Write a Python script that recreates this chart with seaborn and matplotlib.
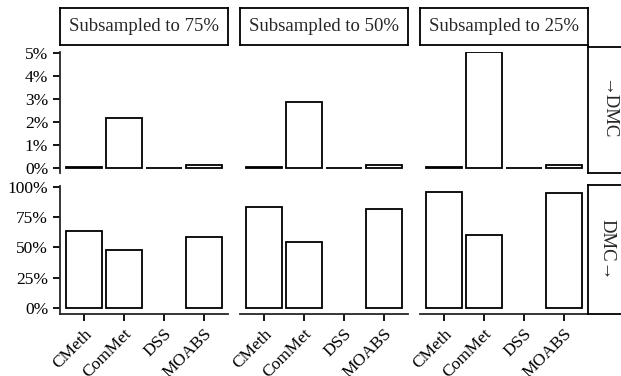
import numpy as np
import pandas as pd
import seaborn as sns
import matplotlib.pyplot as plt
from matplotlib.ticker import FuncFormatter

# data (percent)
methods = ['CMeth', 'ComMet', 'DSS', 'MOABS']
subsets = ['Subsampled to 75%', 'Subsampled to 50%', 'Subsampled to 25%']
rows = ['\u2192DMC', 'DMC\u2192']

to_dmc_75 = [0.02, 2.16, 0.0, 0.12]
to_dmc_50 = [0.02, 2.86, 0.0, 0.12]
to_dmc_25 = [0.02, 5.06, 0.0, 0.12]
dmc_to_75 = [63.9, 47.7, np.nan, 58.9]
dmc_to_50 = [83.2, 54.3, np.nan, 81.8]
dmc_to_25 = [96.1, 60.3, np.nan, 94.8]

top_ticks = [0, 1, 2, 3, 4, 5]
bottom_ticks = [0, 25, 50, 75, 100]

values = {
    (rows[0], subsets[0]): to_dmc_75, (rows[0], subsets[1]): to_dmc_50, (rows[0], subsets[2]): to_dmc_25,
    (rows[1], subsets[0]): dmc_to_75, (rows[1], subsets[1]): dmc_to_50, (rows[1], subsets[2]): dmc_to_25,
}
df = pd.DataFrame([
    {'row': r, 'subset': s, 'method': m, 'value': v}
    for (r, s), vals in values.items() for m, v in zip(methods, vals)
])

sns.set_style('ticks')
plt.rcParams['font.family'] = ['Liberation Serif', 'DejaVu Serif']
plt.rcParams['axes.linewidth'] = 1.3

W, H = 621, 376
fig = plt.figure(figsize=(W / 100, H / 100), dpi=100)

def px_axes(x0, y0, x1, y1):
    return fig.add_axes([x0 / W, 1 - y1 / H, (x1 - x0) / W, (y1 - y0) / H])

col_x = [(60, 228), (240, 408), (420, 588)]
row_y = [(52, 173), (186, 314)]
ylims = [(-0.22, 5.04), (-5, 100.8)]

for i, r in enumerate(rows):
    for j, s in enumerate(subsets):
        ax = px_axes(col_x[j][0], row_y[i][0], col_x[j][1], row_y[i][1])
        d = df[(df.row == r) & (df.subset == s)].dropna()
        sns.barplot(data=d, x='method', y='value', order=methods, color='white',
                    saturation=1, edgecolor='black', linewidth=1.3, width=0.9,
                    errorbar=None, ax=ax)
        ax.set_xlim(-0.6, 3.6)
        ax.set_ylim(*ylims[i])
        ax.set_xlabel('')
        ax.set_ylabel('')
        ax.set_facecolor('none')
        for side in ['top', 'right']:
            ax.spines[side].set_visible(False)
        ax.tick_params(width=1.3, length=5, labelsize=12.5, colors='black')
        if i == 0:
            ax.spines['bottom'].set_visible(False)
            ax.set_xticks([])
        else:
            ax.set_xticks(range(len(methods)))
            ax.set_xticklabels(methods, rotation=45, ha='right', va='top',
                               rotation_mode='anchor')
        if j == 0:
            ax.set_yticks(top_ticks if i == 0 else bottom_ticks)
            ax.yaxis.set_major_formatter(FuncFormatter(lambda v, p: f'{v:.0f}%'))
        else:
            ax.spines['left'].set_visible(False)
            ax.set_yticks([])

# facet strips
def strip(x0, y0, x1, y1, text, rot):
    sa = px_axes(x0, y0, x1, y1)
    sa.set_xticks([])
    sa.set_yticks([])
    sa.set_facecolor('white')
    for sp in sa.spines.values():
        sp.set_visible(True)
        sp.set_linewidth(1.3)
        sp.set_color('black')
    sa.text(0.5, 0.5, text, transform=sa.transAxes, ha='center', va='center',
            rotation=rot, fontsize=13.5)

for j, s in enumerate(subsets):
    strip(col_x[j][0], 8, col_x[j][1], 45, s, 0)
strip(588, 47, 626, 173, rows[0], -90)
strip(588, 185, 626, 314, rows[1], -90)

fig.savefig('out.png', dpi=100)
